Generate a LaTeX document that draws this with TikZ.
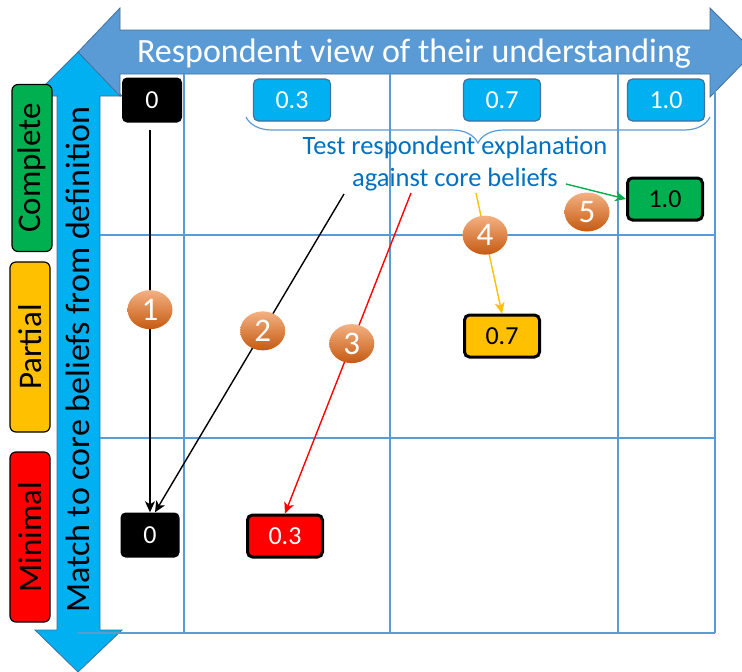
\documentclass[tikz,border=0pt]{standalone}
\usepackage{fontspec}
\setmainfont{Carlito}
\usetikzlibrary{arrows.meta,shapes.geometric,decorations.pathreplacing}
\definecolor{axisblue}{RGB}{91,155,213}
\definecolor{axisedge}{RGB}{65,113,156}
\definecolor{skyblue}{RGB}{0,176,240}
\definecolor{notegreen}{RGB}{0,176,80}
\definecolor{noteamber}{RGB}{255,192,0}
\definecolor{notered}{RGB}{255,0,0}
\definecolor{textblue}{RGB}{0,112,192}
\definecolor{balltop}{RGB}{244,177,131}
\definecolor{ballbottom}{RGB}{197,90,17}

\begin{document}
\begin{tikzpicture}[x=1pt,y=-1pt,
    gridline/.style={axisblue, line width=2pt},
    valbox/.style={rounded corners=5pt, inner sep=0pt, minimum width=77pt, minimum height=42pt, font=\fontsize{26}{30}\selectfont},
    viewbox/.style={valbox, fill=skyblue, draw=axisedge, line width=1.2pt, text=white},
    scorebox/.style={valbox, draw=black, line width=3pt, minimum width=75pt, minimum height=42pt},
    levelbox/.style={rotate=90, draw=black, line width=1.2pt, rounded corners=6pt, inner sep=0pt, minimum height=40pt, font=\fontsize{33}{38}\selectfont},
    numball/.style={ellipse, inner sep=0pt, minimum width=45pt, minimum height=39pt, top color=balltop, bottom color=ballbottom, text=white, font=\fontsize{33}{36}\selectfont},
    link/.style={line width=1.4pt, -{Stealth[length=11pt,width=10pt,inset=3pt]}}]
    \clip (0,0) rectangle (742,672);

    % Axis arrows
    \draw[fill=skyblue, draw=axisedge, line width=0.8pt] (78,52) -- (122,96) -- (100,96) -- (100,630) -- (122,630) -- (78,672) -- (35,630) -- (57,630) -- (57,96) -- (34,96) -- cycle;
    \draw[fill=axisblue, draw=axisedge, line width=0.8pt] (78,52) -- (120,8) -- (120,30) -- (710,30) -- (710,8) -- (754,52) -- (710,97) -- (710,74) -- (120,74) -- (120,96) -- cycle;
    \node[anchor=base, text=white, font=\fontsize{34}{40}\selectfont] (viewtitle) at (414,62) {Respondent view of their understanding};
    \node[anchor=base, rotate=90, font=\fontsize{34}{40}\selectfont] (matchtitle) at (89,360) {Match to core beliefs from definition};

    % Grid
    \foreach \x in {184,390,618,715}
        \draw[gridline] (\x,74) -- (\x,633);
    \foreach \y in {235,438}
        \draw[gridline] (100,\y) -- (715,\y);
    \draw[gridline] (78,633) -- (715,633);

    % Match levels
    \node[levelbox, fill=notegreen, minimum width=167pt] (complete) at (32,168) {Complete};
    \node[levelbox, fill=noteamber, minimum width=170pt] (partial) at (30,347) {Partial};
    \node[levelbox, fill=notered, minimum width=170pt] (minimal) at (30,537) {Minimal};

    % Respondent views
    \node[valbox, fill=black, text=white, minimum width=60pt, minimum height=45pt] (view0) at (152,100) {0};
    \foreach \x/\v/\n in {292/0.3/view03, 502/0.7/view07, 666/1.0/view10}
        \node[viewbox] (\n) at (\x,100) {\v};
    \draw[axisblue, line width=1.2pt, decorate, decoration={brace, mirror, amplitude=26pt}] (246,117) -- (710,117);
    \node[text=textblue, align=center, font=\fontsize{26.5}{32}\selectfont] (explain) at (455,164) {Test respondent explanation\\against core beliefs};

    % Scores after testing
    \node[scorebox, fill=notegreen] (score10) at (665,199) {1.0};
    \node[scorebox, fill=noteamber] (score07) at (502,336) {0.7};
    \node[valbox, fill=black, text=white, minimum width=59pt, minimum height=45pt] (score0) at (150,535) {0};
    \node[scorebox, fill=notered, text=white] (score03) at (285,536) {0.3};

    % Paths
    \coordinate (from1) at (150,130);
    \coordinate (from2) at (344,194);
    \coordinate (from3) at (411,193);
    \coordinate (from4) at (476,193);
    \coordinate (from5) at (566,184);
    \draw[link] (from1) -- (score0.north) node[numball, pos=0.47] (ball1) {1};
    \draw[link] (from2) -- ([xshift=5pt]score0.north) node[numball, pos=0.43] (ball2) {2};
    \draw[link, notered] (from3) -- (score03.north) node[numball, pos=0.47] (ball3) {3};
    \draw[link, noteamber] (from4) -- (score07.north) node[numball, pos=0.35] (ball4) {4};
    \draw[link, notegreen] (from5) -- (score10.west);
    \node[numball] (ball5) at (587,212) {5};
\end{tikzpicture}
\end{document}
